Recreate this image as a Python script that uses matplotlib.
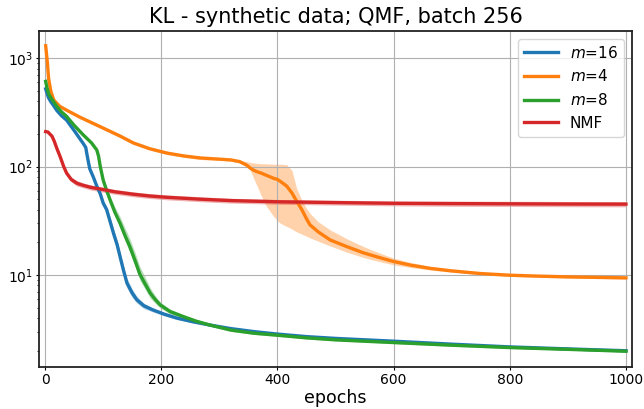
import matplotlib
matplotlib.use('Agg')
import matplotlib.pyplot as plt

# m=16
ep_16 = [1, 3, 6, 10, 14, 20, 28, 37, 50, 66, 70, 72, 75, 77, 83, 89, 95, 100, 106, 112, 118, 124,
         129, 135, 141, 150, 158, 170, 186, 205, 227, 255, 284, 320, 360, 400, 450, 500, 600, 700,
         800, 900, 1000]
kl_16 = [520, 480, 430, 395, 369, 330, 295, 268, 215, 162, 150, 130, 107, 95, 80, 66, 56, 46, 40,
         31, 24, 19, 14.8, 11, 8.4, 6.8, 5.9, 5.2, 4.75, 4.35, 4.0, 3.7, 3.45, 3.2, 3.0, 2.85, 2.7,
         2.6, 2.45, 2.3, 2.17, 2.08, 2.0]
hi_16 = [535, 494, 443, 407, 380, 340, 304, 276, 221, 167, 155, 134, 110, 98, 83, 69, 59, 49, 43,
         34, 26.5, 21, 16.4, 12.2, 9.3, 7.4, 6.35, 5.5, 4.95, 4.5, 4.12, 3.8, 3.53, 3.27, 3.06, 2.9,
         2.75, 2.65, 2.49, 2.34, 2.21, 2.12, 2.04]
lo_16 = [505, 466, 417, 383, 358, 320, 286, 260, 209, 157, 145, 126, 104, 92, 77, 63, 53, 43.5, 37,
         28, 21.5, 17, 13.3, 9.9, 7.6, 6.2, 5.5, 4.9, 4.55, 4.2, 3.88, 3.6, 3.37, 3.13, 2.94, 2.8,
         2.65, 2.55, 2.41, 2.26, 2.13, 2.04, 1.96]

# m=4
ep_4 = [1, 2, 4, 6, 10, 15, 25, 37, 60, 95, 130, 152, 180, 210, 240, 267, 300, 320, 335, 347, 353,
        358, 364, 372, 381, 393, 400, 405, 416, 425, 433, 442, 450, 456, 470, 491, 520, 548, 575,
        600, 630, 663, 700, 750, 800, 850, 900, 950, 1000]
kl_4 = [1300, 1150, 900, 650, 490, 410, 360, 331, 285, 233, 190, 165, 146, 133, 125, 120, 117, 115,
        111, 103, 97, 93, 90, 87, 83, 78, 76, 73, 66, 57, 48, 40, 33, 29, 25, 21, 18.2, 16, 14.5,
        13.3, 12.3, 11.5, 10.9, 10.3, 9.95, 9.75, 9.6, 9.5, 9.4]
hi_4 = [1340, 1185, 925, 670, 505, 422, 370, 340, 293, 240, 196, 170, 150, 137, 129, 124, 120, 118,
        114, 111, 109, 108, 107, 106, 106, 105, 105, 105, 104, 92, 63, 49, 41, 37, 31, 26, 21.5,
        18.3, 16, 14.3, 13, 12, 11.3, 10.6, 10.2, 10, 9.85, 9.75, 9.65]
lo_4 = [1260, 1115, 875, 630, 475, 398, 350, 322, 277, 226, 184, 160, 142, 129, 121, 116, 114, 112,
        108, 100, 93, 80, 68, 54, 43, 35, 31.5, 30, 28, 26.5, 25, 23.8, 22.8, 22, 20.5, 18.5, 16.2,
        14.5, 13.3, 12.4, 11.7, 11.1, 10.6, 10.05, 9.7, 9.5, 9.37, 9.27, 9.18]

# m=8
ep_8 = [1, 3, 6, 10, 14, 20, 28, 37, 50, 66, 80, 89, 92, 95, 100, 106, 112, 120, 129, 137, 146, 155,
        163, 172, 181, 190, 198, 215, 238, 260, 284, 320, 360, 400, 450, 500, 600, 700, 800, 900,
        1000]
kl_8 = [610, 540, 470, 430, 400, 360, 320, 290, 240, 195, 165, 142, 125, 100, 75, 60, 49, 38, 30,
        23.5, 18.2, 13.5, 10.2, 8.3, 6.8, 5.9, 5.3, 4.6, 4.13, 3.75, 3.45, 3.1, 2.9, 2.78, 2.63,
        2.52, 2.38, 2.25, 2.14, 2.06, 1.98]
hi_8 = [628, 556, 484, 443, 412, 371, 330, 299, 247, 201, 170, 146, 129, 104, 79, 64, 53, 42.5,
        34.5, 27.5, 21.5, 16, 12, 9.6, 7.6, 6.4, 5.65, 4.85, 4.3, 3.88, 3.55, 3.18, 2.97, 2.84,
        2.69, 2.57, 2.43, 2.3, 2.18, 2.1, 2.02]
lo_8 = [592, 524, 456, 417, 388, 349, 310, 281, 233, 189, 160, 138, 121, 96, 71, 57, 46, 35.5,
        27.5, 21, 16, 12, 9, 7.4, 6.1, 5.45, 4.97, 4.38, 3.96, 3.62, 3.35, 3.02, 2.83, 2.72, 2.57,
        2.47, 2.33, 2.2, 2.1, 2.02, 1.94]

# NMF
ep_nmf = [1, 5, 8, 12, 16, 20, 26, 32, 37, 45, 55, 66, 80, 95, 120, 152, 180, 210, 267, 320, 400,
          500, 600, 700, 800, 900, 1000]
kl_nmf = [210, 208, 200, 190, 170, 148, 123, 100, 87, 76, 70, 67, 64, 62, 58.5, 55.5, 53.5, 52, 50,
          48.5, 47.3, 46.5, 45.8, 45.5, 45.3, 45.1, 45]
hi_nmf = [214, 212, 204, 194, 174, 152, 127, 104, 91, 80, 74, 70.5, 67.5, 65.3, 61.5, 58.4, 56.3,
          54.7, 52.6, 51, 49.7, 48.9, 48.2, 48, 47.8, 47.6, 47.5]
lo_nmf = [206, 204, 196, 186, 166, 144, 119, 96, 83, 72, 66, 63.5, 60.5, 58.7, 55.5, 52.6, 50.7,
          49.3, 47.4, 46, 44.9, 44.1, 43.4, 43, 42.8, 42.6, 42.5]

series = [
    ('$m$=16', ep_16, kl_16, lo_16, hi_16, 'C0'),
    ('$m$=4', ep_4, kl_4, lo_4, hi_4, 'C1'),
    ('$m$=8', ep_8, kl_8, lo_8, hi_8, 'C2'),
    ('NMF', ep_nmf, kl_nmf, lo_nmf, hi_nmf, 'C3'),
]

fig, ax = plt.subplots(figsize=(6.44, 4.09), dpi=100)
fig.subplots_adjust(left=0.061, right=0.981, top=0.924, bottom=0.103)

for label, ep, kl, lo, hi, c in series:
    ax.fill_between(ep, lo, hi, color=c, alpha=0.35, linewidth=0)
    ax.plot(ep, kl, color=c, lw=2.4, label=label)

ax.set_yscale('log')
ax.set_xlim(-10, 1010)
ax.set_ylim(1.42, 1775)
ax.set_xticks([0, 200, 400, 600, 800, 1000])
ax.grid(True, which='major', color='#b0b0b0', lw=0.8)
for s in ax.spines.values():
    s.set_linewidth(1.3)
    s.set_color('#222222')

ax.set_title('KL - synthetic data; QMF, batch 256', fontsize=15)
ax.set_xlabel('epochs', fontsize=12.5, labelpad=1)
ax.tick_params(axis='both', which='major', labelsize=10, length=2.5, pad=2)
ax.tick_params(axis='y', which='minor', length=1.5)
ax.legend(loc='upper right', fontsize=11, handlelength=2.2)

fig.savefig('out.png', dpi=100)
